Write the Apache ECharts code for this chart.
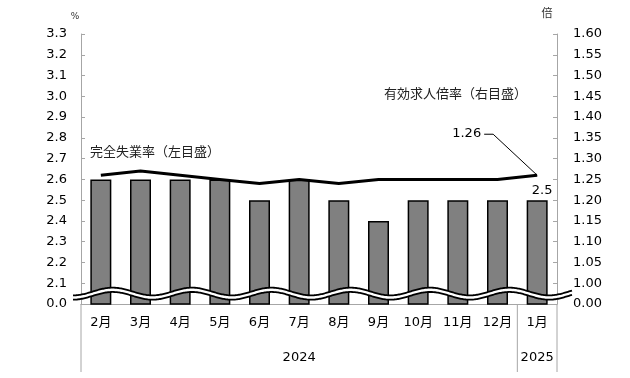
<!DOCTYPE html>
<html>
<head>
<meta charset="utf-8">
<script src="https://cdn.jsdelivr.net/npm/echarts@6/dist/echarts.min.js"></script>
<style>html,body{margin:0;padding:0;background:#fff;}#c{width:630px;height:378px;}</style>
</head>
<body>
<div id="c"></div>
<script>
const categories = ['2月','3月','4月','5月','6月','7月','8月','9月','10月','11月','12月','1月'];
const unemployment = [2.6, 2.6, 2.6, 2.6, 2.5, 2.6, 2.5, 2.4, 2.5, 2.5, 2.5, 2.5];
const jobRatio = [1.26, 1.27, 1.26, 1.25, 1.24, 1.25, 1.24, 1.25, 1.25, 1.25, 1.25, 1.26];
const leftTickLabels = ['0.0','2.1','2.2','2.3','2.4','2.5','2.6','2.7','2.8','2.9','3.0','3.1','3.2','3.3'];
const rightTickLabels = ['0.00','1.00','1.05','1.10','1.15','1.20','1.25','1.30','1.35','1.40','1.45','1.50','1.55','1.60'];
const years = [{label:'2024', from:0, to:10}, {label:'2025', from:11, to:11}];

const NUM_FONT = "'DejaVu Sans', 'Noto Sans CJK JP', sans-serif";
const CJK_FONT = "'Noto Sans CJK JP', sans-serif";
const AXIS_COLOR = '#a6a6a6';

const chart = echarts.init(document.getElementById('c'), null, {renderer:'canvas'});

const option = {
  animation: false,
  backgroundColor: '#fff',
  grid: {left: 81, right: 73, top: 34, bottom: 74},
  xAxis: {
    type: 'category',
    data: categories,
    axisLine: {lineStyle: {color: AXIS_COLOR, width: 1}},
    axisTick: {show: false},
    axisLabel: {color: '#000', fontSize: 13, fontFamily: NUM_FONT, margin: 12}
  },
  yAxis: [
    {
      type: 'value', min: 2.0, max: 3.3, interval: 0.1,
      splitLine: {show: false},
      axisLine: {show: true, lineStyle: {color: AXIS_COLOR}},
      axisTick: {show: true, inside: true, length: 4, lineStyle: {color: AXIS_COLOR}},
      axisLabel: {
        color: '#000', fontSize: 13, fontFamily: NUM_FONT, margin: 14,
        formatter: v => leftTickLabels[Math.round((v - 2.0) / 0.1)]
      }
    },
    {
      type: 'value', min: 0.95, max: 1.60, interval: 0.05,
      splitLine: {show: false},
      axisLine: {show: true, lineStyle: {color: AXIS_COLOR}},
      axisTick: {show: true, inside: true, length: 4, lineStyle: {color: AXIS_COLOR}},
      axisLabel: {
        color: '#000', fontSize: 13, fontFamily: NUM_FONT, margin: 16,
        formatter: v => rightTickLabels[Math.round((v - 0.95) / 0.05)]
      }
    }
  ],
  series: [
    {
      type: 'bar', yAxisIndex: 0, barWidth: 21, z: 2,
      itemStyle: {color: '#808080', borderColor: '#000', borderWidth: 1.5},
      data: unemployment.map((v, i) => i === unemployment.length - 1
        ? {value: v, label: {show: true, position: 'top', distance: 3, offset: [5, 0],
            color: '#000', fontSize: 13, fontFamily: NUM_FONT}}
        : v)
    },
    {
      type: 'line', yAxisIndex: 1, z: 5, symbol: 'none',
      lineStyle: {color: '#000', width: 3},
      data: jobRatio
    }
  ]
};
chart.setOption(option);

function px(i, v, axis) {
  return chart.convertToPixel({xAxisIndex: 0, yAxisIndex: axis}, [i, v]);
}

const g = [];
const x0 = px(0, 2.0, 0);
const x1 = px(1, 2.0, 0);
const catW = x1[0] - x0[0];
const gridLeft = x0[0] - catW / 2;
const gridRight = gridLeft + catW * categories.length;
const yBase = x0[1];
const y21 = px(0, 2.1, 0)[1];
const mid = (yBase + y21) / 2;

// wavy axis break
const A = 3.85, upC = mid - 2.1, loC = mid + 2.2;
const xPeak = x0[0] + 0.3 * catW;
const period = 2 * catW;
const wx0 = gridLeft - 8, wx1 = gridRight + 15;
const up = [], lo = [];
for (let x = wx0; x <= wx1 + 0.01; x += 1) {
  const d = -A * Math.cos(2 * Math.PI * (x - xPeak) / period);
  up.push([x, upC + d]);
  lo.push([x, loC + d]);
}
g.push({type: 'polygon', z: 10, shape: {points: up.concat(lo.slice().reverse())}, style: {fill: '#fff', stroke: null}});
g.push({type: 'polyline', z: 11, shape: {points: up}, style: {stroke: '#000', lineWidth: 1.8, fill: null}});
g.push({type: 'polyline', z: 11, shape: {points: lo}, style: {stroke: '#000', lineWidth: 1.8, fill: null}});

// year grouping lines and labels
const bounds = [gridLeft];
years.forEach(y => bounds.push(gridLeft + catW * (y.to + 1)));
bounds.forEach(bx => g.push({type: 'line', z: 3, shape: {x1: bx, y1: yBase, x2: bx, y2: 372},
  style: {stroke: AXIS_COLOR, lineWidth: 1}}));
years.forEach(y => {
  const cx = gridLeft + catW * (y.from + y.to + 1) / 2;
  g.push({type: 'text', z: 3, x: cx, y: 358, style: {text: y.label, fill: '#000', font: '13px ' + NUM_FONT, align: 'center', verticalAlign: 'middle'}});
});

// axis units
g.push({type: 'text', x: 75, y: 17, style: {text: '%', fill: '#333', font: '9px ' + NUM_FONT, align: 'center', verticalAlign: 'middle'}});
g.push({type: 'text', x: 547, y: 13, style: {text: '倍', fill: '#333', font: '11px ' + CJK_FONT, align: 'center', verticalAlign: 'middle'}});

// series annotations
g.push({type: 'text', x: 90, y: 151, style: {text: '完全失業率（左目盛）', fill: '#222', font: '13px ' + CJK_FONT, align: 'left', verticalAlign: 'middle'}});
g.push({type: 'text', x: 384, y: 93, style: {text: '有効求人倍率（右目盛）', fill: '#222', font: '13px ' + CJK_FONT, align: 'left', verticalAlign: 'middle'}});

const last = jobRatio.length - 1;
const p = px(last, jobRatio[last], 1);
g.push({type: 'polyline', z: 6, shape: {points: [[p[0], p[1]], [p[0] - 44, p[1] - 41], [p[0] - 53, p[1] - 41]]},
  style: {stroke: '#000', lineWidth: 1, fill: null}});
g.push({type: 'text', z: 6, x: p[0] - 56, y: p[1] - 41.5, style: {text: jobRatio[last].toFixed(2), fill: '#000', font: '13px ' + NUM_FONT, align: 'right', verticalAlign: 'middle'}});

chart.setOption({graphic: g});
</script>
</body>
</html>
